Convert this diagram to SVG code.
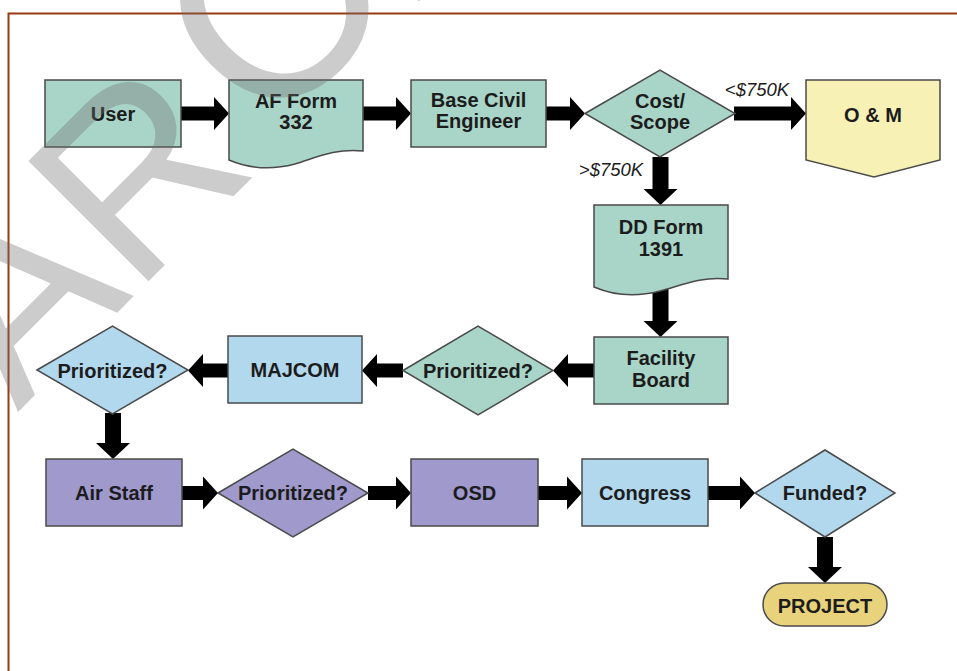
<svg xmlns="http://www.w3.org/2000/svg" width="957" height="671" viewBox="0 0 957 671">
<style>
.n{stroke:#4a4a4a;stroke-width:1.5}
.teal{fill:#a9d5c8}
.blue{fill:#b2d8ee}
.purp{fill:#9f99cc}
.yel{fill:#f8f1b6}
.gold{fill:#e8d37c}
.t{font-family:"Liberation Sans",Arial,sans-serif;font-weight:bold;font-size:20px;fill:#1c1c1c;text-anchor:middle}
.lbl{font-family:"Liberation Sans",Arial,sans-serif;font-style:italic;font-size:18.5px;fill:#1c1c1c;text-anchor:middle}
.arr{fill:#000}
.wm{font-family:"Liberation Sans",Arial,sans-serif;font-size:247px;fill:#6e6e6e;fill-opacity:0.35}
</style>
<rect x="0" y="0" width="957" height="671" fill="#fff"/>
<path d="M8.5,671 V13.5 H957" fill="none" stroke="#9a3a12" stroke-width="2"/>

<g id="connectors">
<polygon class="arr" points="181,106.5 214,106.5 214,97 229,113.5 214,130 214,120.5 181,120.5"/>
<polygon class="arr" points="363,106.5 396,106.5 396,97 411,113.5 396,130 396,120.5 363,120.5"/>
<polygon class="arr" points="546,106.5 570,106.5 570,97 585,113.5 570,130 570,120.5 546,120.5"/>
<polygon class="arr" points="734,106.5 791,106.5 791,97 806,113.5 791,130 791,120.5 734,120.5"/>
<polygon class="arr" points="652.5,157 652.5,189 643.5,189 660.5,205 677.5,189 668.5,189 668.5,157"/>
<polygon class="arr" points="652.5,285 652.5,321 643.5,321 660.5,337 677.5,321 668.5,321 668.5,285"/>
<polygon class="arr" points="594,363.5 568,363.5 568,354 553,370.5 568,387 568,377.5 594,377.5"/>
<polygon class="arr" points="403,363.5 377,363.5 377,354 362,370.5 377,387 377,377.5 403,377.5"/>
<polygon class="arr" points="228,363.5 203,363.5 203,354 188,370.5 203,387 203,377.5 228,377.5"/>
<polygon class="arr" points="105,413 105,443 96,443 113,459 130,443 121,443 121,413"/>
<polygon class="arr" points="182,486 203,486 203,476.5 218,493 203,509.5 203,500 182,500"/>
<polygon class="arr" points="368,486 396,486 396,476.5 411,493 396,509.5 396,500 368,500"/>
<polygon class="arr" points="538,486 567,486 567,476.5 582,493 567,509.5 567,500 538,500"/>
<polygon class="arr" points="708,486 740,486 740,476.5 755,493 740,509.5 740,500 708,500"/>
<polygon class="arr" points="817,537 817,567 808,567 825,583 842,567 833,567 833,537"/>
<text class="lbl" x="757" y="96">&lt;$750K</text>
<text class="lbl" x="611" y="176">&gt;$750K</text>
</g>

<g id="user">
<rect class="n teal" x="45" y="80" width="136" height="67"/>
<text class="t" x="113" y="120.5">User</text>
</g>
<g id="af-form-332">
<path class="n teal" d="M229,80 H363 V151 C335,148 315,158 295,164 C272,170 250,169 229,160 Z"/>
<text class="t" x="296" y="108">AF Form</text>
<text class="t" x="296" y="129">332</text>
</g>
<g id="base-civil-engineer">
<rect class="n teal" x="411" y="80" width="135" height="67"/>
<text class="t" x="478.5" y="107">Base Civil</text>
<text class="t" x="478.5" y="128">Engineer</text>
</g>
<g id="cost-scope">
<polygon class="n teal" points="585,113.5 660,70 735,113.5 660,157"/>
<text class="t" x="660" y="108">Cost/</text>
<text class="t" x="660" y="129">Scope</text>
</g>
<g id="o-and-m">
<polygon class="n yel" points="806,80 940,80 940,160 874,177 806,160"/>
<text class="t" x="873" y="122">O &amp; M</text>
</g>
<g id="dd-form-1391">
<path class="n teal" d="M594,205 H728 V279 C700,276 680,286 660,291 C637,297 615,296 594,287 Z"/>
<text class="t" x="661" y="234">DD Form</text>
<text class="t" x="661" y="256">1391</text>
</g>
<g id="facility-board">
<rect class="n teal" x="594" y="337" width="134" height="67"/>
<text class="t" x="661" y="365">Facility</text>
<text class="t" x="661" y="387">Board</text>
</g>
<g id="prioritized-facility">
<polygon class="n teal" points="403,370.5 478,326 553,370.5 478,415"/>
<text class="t" x="478" y="378">Prioritized?</text>
</g>
<g id="majcom">
<rect class="n blue" x="228" y="336" width="134" height="67"/>
<text class="t" x="295" y="377">MAJCOM</text>
</g>
<g id="prioritized-majcom">
<polygon class="n blue" points="37,370 112.5,326 188,370 112.5,414"/>
<text class="t" x="112.5" y="377.5">Prioritized?</text>
</g>
<g id="air-staff">
<rect class="n purp" x="46" y="459" width="136" height="67"/>
<text class="t" x="114" y="500">Air Staff</text>
</g>
<g id="prioritized-air-staff">
<polygon class="n purp" points="218,493 293,449 368,493 293,537"/>
<text class="t" x="293" y="500">Prioritized?</text>
</g>
<g id="osd">
<rect class="n purp" x="411" y="459" width="127" height="67"/>
<text class="t" x="474.5" y="500">OSD</text>
</g>
<g id="congress">
<rect class="n blue" x="582" y="459" width="126" height="67"/>
<text class="t" x="645" y="500">Congress</text>
</g>
<g id="funded">
<polygon class="n blue" points="755,493 825,450 895,493 825,537"/>
<text class="t" x="825" y="500">Funded?</text>
</g>
<g id="project">
<rect class="n gold" x="763" y="583" width="124" height="43" rx="21.5" ry="21.5"/>
<text class="t" x="825" y="613">PROJECT</text>
</g>

<text class="wm" transform="rotate(-45)"><tspan x="-279" y="304">A</tspan><tspan x="-114" y="304">R</tspan><tspan x="90" y="288" font-size="265">C</tspan><tspan x="275" y="297">HIVED</tspan></text>
</svg>
